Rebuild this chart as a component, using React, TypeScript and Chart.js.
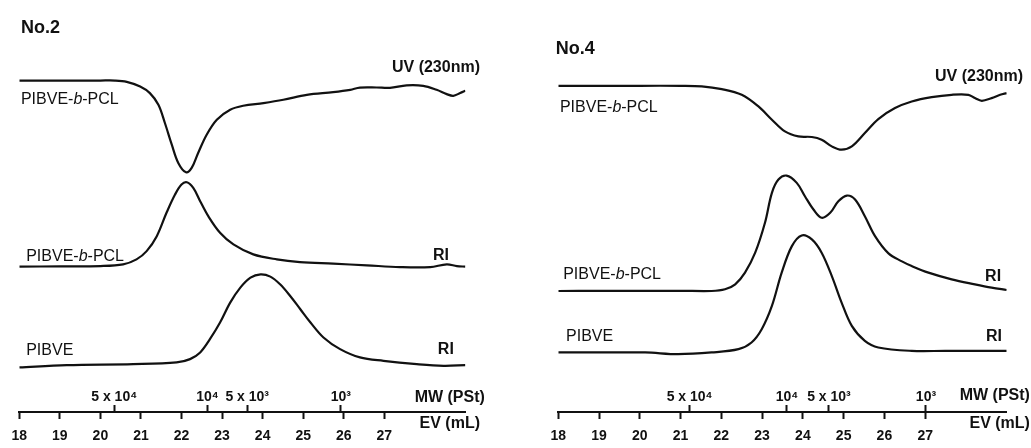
import React, { useEffect, useRef } from "react";
import { Chart, registerables } from "chart.js";

Chart.register(...registerables);

const FONT = "'Liberation Sans', Arial, Helvetica, sans-serif";
const INK = "#111";

// Elution volume ticks (mL) and molecular-weight calibration marks
const EV_TICKS = [18, 19, 20, 21, 22, 23, 24, 25, 26, 27];
const MW_LABELS = ["5 x 10\u2074", "10\u2074", "5 x 10\u00b3", "10\u00b3"];
const NO2_MW_POS = [20.34, 22.64, 23.62, 25.93];
const NO4_MW_POS = [21.22, 23.61, 24.64, 27.02];

// ---- No.2 traces (x: EV mL, y: detector response incl. vertical offset) ----
const NO2_UV_EV = [18.0, 19.0, 20.0, 20.36, 20.65, 20.98, 21.22, 21.43, 21.59, 21.76, 21.92, 22.11, 22.25, 22.41, 22.62, 22.87, 23.2, 23.52, 24.02, 24.51, 25.09, 25.74, 26.16, 26.4, 26.81, 27.14, 27.55, 27.96, 28.29, 28.54, 28.7, 28.87, 29.0];
const NO2_UV = [332.3, 332.3, 332.3, 332.3, 331, 326.3, 319.7, 308, 289.7, 268, 249.7, 240.3, 244.7, 259.7, 278, 293, 303, 307, 309.7, 313, 318, 320.7, 323, 325.2, 325.3, 325, 327.5, 327, 323, 318.7, 317, 319.7, 322];

const NO2_RI_BLOCK_EV = [18.0, 19.0, 20.0, 20.56, 20.89, 21.14, 21.39, 21.63, 21.84, 22.0, 22.13, 22.29, 22.46, 22.66, 22.95, 23.28, 23.77, 24.35, 24.92, 25.74, 26.57, 27.39, 28.13, 28.54, 28.79, 29.0];
const NO2_RI_BLOCK = [145.7, 146, 146.3, 148, 153, 161.3, 176.3, 199.7, 218, 228, 230.3, 224.7, 211.3, 196.3, 179.7, 168, 158, 153, 150.3, 148.7, 147, 145.3, 145.3, 148, 146.3, 145.7];

const NO2_RI_HOMO_EV = [18.0, 19.17, 20.81, 21.88, 22.21, 22.46, 22.7, 22.95, 23.2, 23.45, 23.7, 23.95, 24.19, 24.43, 24.68, 24.93, 25.18, 25.5, 25.91, 26.4, 26.98, 27.8, 28.46, 29.0];
const NO2_RI_HOMO = [44.7, 47, 48, 49.7, 53, 59.7, 73, 89.7, 109.7, 124.7, 134.7, 138, 135.7, 128, 116.3, 103, 89.7, 74.7, 63, 54.7, 51.3, 48, 46.3, 47];

// ---- No.4 traces ----
const NO4_UV_EV = [18.0, 19.0, 20.0, 21.0, 21.52, 22.01, 22.5, 22.91, 23.24, 23.56, 23.89, 24.22, 24.46, 24.71, 24.95, 25.2, 25.52, 25.85, 26.26, 26.67, 27.16, 27.65, 28.06, 28.22, 28.39, 28.63, 28.84, 29.0];
const NO4_UV = [327, 327, 327, 327, 326.5, 323.7, 318, 306.3, 293, 281.3, 276.3, 275.7, 273, 266.3, 263, 266.3, 279.7, 293.7, 304.7, 311.3, 315.7, 318, 318, 314.7, 312, 314.7, 318, 319.7];

const NO4_RI_BLOCK_EV = [18.0, 19.0, 20.0, 21.0, 21.76, 22.09, 22.34, 22.58, 22.83, 23.07, 23.24, 23.4, 23.6, 23.85, 24.05, 24.26, 24.46, 24.67, 24.87, 25.08, 25.28, 25.52, 25.77, 26.1, 26.43, 26.67, 27.08, 27.65, 28.22, 28.63, 29.0];
const NO4_RI_BLOCK = [121.3, 121.5, 121.5, 121.5, 121.3, 123, 128, 139.7, 159.7, 189.7, 219.7, 233, 237, 229.7, 216.3, 203, 194.7, 199.7, 211.3, 217, 213, 196.3, 176.3, 159, 151, 146.3, 139.7, 133, 128, 124.7, 122.3];

const NO4_RI_HOMO_EV = [18.0, 19.0, 20.13, 20.94, 21.76, 22.42, 22.74, 22.99, 23.24, 23.48, 23.73, 23.97, 24.22, 24.46, 24.71, 24.95, 25.2, 25.52, 25.85, 26.67, 27.49, 28.3, 29.0];
const NO4_RI_HOMO = [59.7, 59.7, 59.7, 58, 59.7, 63, 69.7, 83, 106.3, 139.7, 166.3, 177, 173, 159.7, 136.3, 109.7, 86.3, 71.3, 64.7, 61.3, 61.3, 61.3, 61.3];

type Part = { t: string; i?: boolean };
type Note = { parts: Part[]; ev: number; val: number; align: "left" | "right"; size: number; bold: boolean };

const BLOCK: Part[] = [{ t: "PIBVE-" }, { t: "b", i: true }, { t: "-PCL" }];

const NO2_NOTES: Note[] = [
  { parts: [{ t: "No.2" }], ev: 18.04, val: 385, align: "left", size: 18, bold: true },
  { parts: [{ t: "UV (230nm)" }], ev: 29.36, val: 345, align: "right", size: 16, bold: true },
  { parts: BLOCK, ev: 18.04, val: 313, align: "left", size: 16, bold: false },
  { parts: BLOCK, ev: 18.17, val: 156, align: "left", size: 16, bold: false },
  { parts: [{ t: "RI" }], ev: 28.2, val: 156.3, align: "left", size: 16, bold: true },
  { parts: [{ t: "PIBVE" }], ev: 18.17, val: 61.3, align: "left", size: 16, bold: false },
  { parts: [{ t: "RI" }], ev: 28.32, val: 63, align: "left", size: 16, bold: true },
  { parts: [{ t: "MW (PSt)" }], ev: 29.48, val: 14, align: "right", size: 16, bold: true },
  { parts: [{ t: "EV (mL)" }], ev: 29.36, val: -12, align: "right", size: 16, bold: true },
];

const NO4_NOTES: Note[] = [
  { parts: [{ t: "No.4" }], ev: 17.94, val: 364, align: "left", size: 18, bold: true },
  { parts: [{ t: "UV (230nm)" }], ev: 29.4, val: 336, align: "right", size: 16, bold: true },
  { parts: BLOCK, ev: 18.04, val: 305, align: "left", size: 16, bold: false },
  { parts: BLOCK, ev: 18.12, val: 138, align: "left", size: 16, bold: false },
  { parts: [{ t: "RI" }], ev: 28.47, val: 136, align: "left", size: 16, bold: true },
  { parts: [{ t: "PIBVE" }], ev: 18.19, val: 76, align: "left", size: 16, bold: false },
  { parts: [{ t: "RI" }], ev: 28.49, val: 76, align: "left", size: 16, bold: true },
  { parts: [{ t: "MW (PSt)" }], ev: 29.57, val: 16, align: "right", size: 16, bold: true },
  { parts: [{ t: "EV (mL)" }], ev: 29.57, val: -12, align: "right", size: 16, bold: true },
];

type PanelCfg = {
  left: number;
  width: number;
  padLeft: number;
  padRight: number;
  mwPos: number[];
  traces: { ev: number[]; val: number[] }[];
  notes: Note[];
};

const PANELS: PanelCfg[] = [
  {
    left: 0,
    width: 515,
    padLeft: 19.3,
    padRight: 49.6,
    mwPos: NO2_MW_POS,
    traces: [
      { ev: NO2_UV_EV, val: NO2_UV },
      { ev: NO2_RI_BLOCK_EV, val: NO2_RI_BLOCK },
      { ev: NO2_RI_HOMO_EV, val: NO2_RI_HOMO },
    ],
    notes: NO2_NOTES,
  },
  {
    left: 515,
    width: 516,
    padLeft: 43.3,
    padRight: 24.3,
    mwPos: NO4_MW_POS,
    traces: [
      { ev: NO4_UV_EV, val: NO4_UV },
      { ev: NO4_RI_BLOCK_EV, val: NO4_RI_BLOCK },
      { ev: NO4_RI_HOMO_EV, val: NO4_RI_HOMO },
    ],
    notes: NO4_NOTES,
  },
];

function makeNotesPlugin(notes: Note[]) {
  return {
    id: "notes",
    afterDraw(chart: any) {
      const ctx = chart.ctx as CanvasRenderingContext2D;
      const xs = chart.scales.x;
      const ys = chart.scales.y;
      ctx.save();
      ctx.fillStyle = INK;
      ctx.textBaseline = "middle";
      ctx.textAlign = "left";
      for (const n of notes) {
        const fontOf = (p: Part) =>
          `${p.i ? "italic " : ""}${n.bold ? "bold " : ""}${n.size}px ${FONT}`;
        let total = 0;
        for (const p of n.parts) {
          ctx.font = fontOf(p);
          total += ctx.measureText(p.t).width;
        }
        let x = xs.getPixelForValue(n.ev);
        if (n.align === "right") x -= total;
        const y = ys.getPixelForValue(n.val);
        for (const p of n.parts) {
          ctx.font = fontOf(p);
          ctx.fillText(p.t, x, y);
          x += ctx.measureText(p.t).width;
        }
      }
      ctx.restore();
    },
  };
}

function Panel({ cfg }: { cfg: PanelCfg }) {
  const ref = useRef<HTMLCanvasElement | null>(null);
  useEffect(() => {
    if (!ref.current) return;
    const chart = new Chart(ref.current, {
      type: "line",
      data: {
        datasets: cfg.traces.map((t) => ({
          data: t.ev.map((x, i) => ({ x, y: t.val[i] })),
          borderColor: INK,
          borderWidth: 2.2,
          pointRadius: 0,
          fill: false,
          tension: 0.35,
        })),
      },
      options: {
        animation: false,
        responsive: false,
        events: [],
        layout: { padding: { left: cfg.padLeft, right: cfg.padRight, top: 13, bottom: 0 } },
        plugins: { legend: { display: false }, tooltip: { enabled: false } },
        scales: {
          x: {
            type: "linear",
            position: "bottom",
            min: 18,
            max: 29,
            afterBuildTicks: (s: any) => {
              s.ticks = EV_TICKS.map((v) => ({ value: v }));
            },
            grid: { drawOnChartArea: false, drawTicks: true, tickLength: 7, tickWidth: 2, tickColor: INK },
            border: { display: true, color: INK, width: 2 },
            ticks: {
              autoSkip: false,
              maxRotation: 0,
              padding: 10.5,
              color: INK,
              font: { family: FONT, size: 14, weight: "bold", lineHeight: 1 },
              callback: (v: any) => String(v),
            },
          },
          mw: {
            type: "linear",
            axis: "x",
            position: { y: 0 },
            min: 18,
            max: 29,
            afterBuildTicks: (s: any) => {
              s.ticks = cfg.mwPos.map((v) => ({ value: v }));
            },
            grid: { drawOnChartArea: false, drawTicks: true, tickLength: -7, tickWidth: 2, tickColor: INK },
            border: { display: false },
            ticks: {
              autoSkip: false,
              maxRotation: 0,
              padding: -14.5,
              color: INK,
              font: { family: FONT, size: 14, weight: "bold", lineHeight: 1 },
              callback: (_v: any, i: number) => MW_LABELS[i],
            },
          },
          y: { type: "linear", min: 0, max: 400, display: false },
        },
      } as any,
      plugins: [makeNotesPlugin(cfg.notes)],
    });
    return () => chart.destroy();
  }, [cfg]);
  return (
    <canvas
      ref={ref}
      width={cfg.width}
      height={454}
      style={{ position: "absolute", left: cfg.left, top: 0, width: cfg.width, height: 454 }}
    />
  );
}

export default function App() {
  return (
    <div
      style={{
        position: "absolute",
        left: 0,
        top: 0,
        width: 1031,
        height: 448,
        overflow: "hidden",
        background: "#fff",
      }}
    >
      {PANELS.map((p, i) => (
        <Panel key={i} cfg={p} />
      ))}
    </div>
  );
}
